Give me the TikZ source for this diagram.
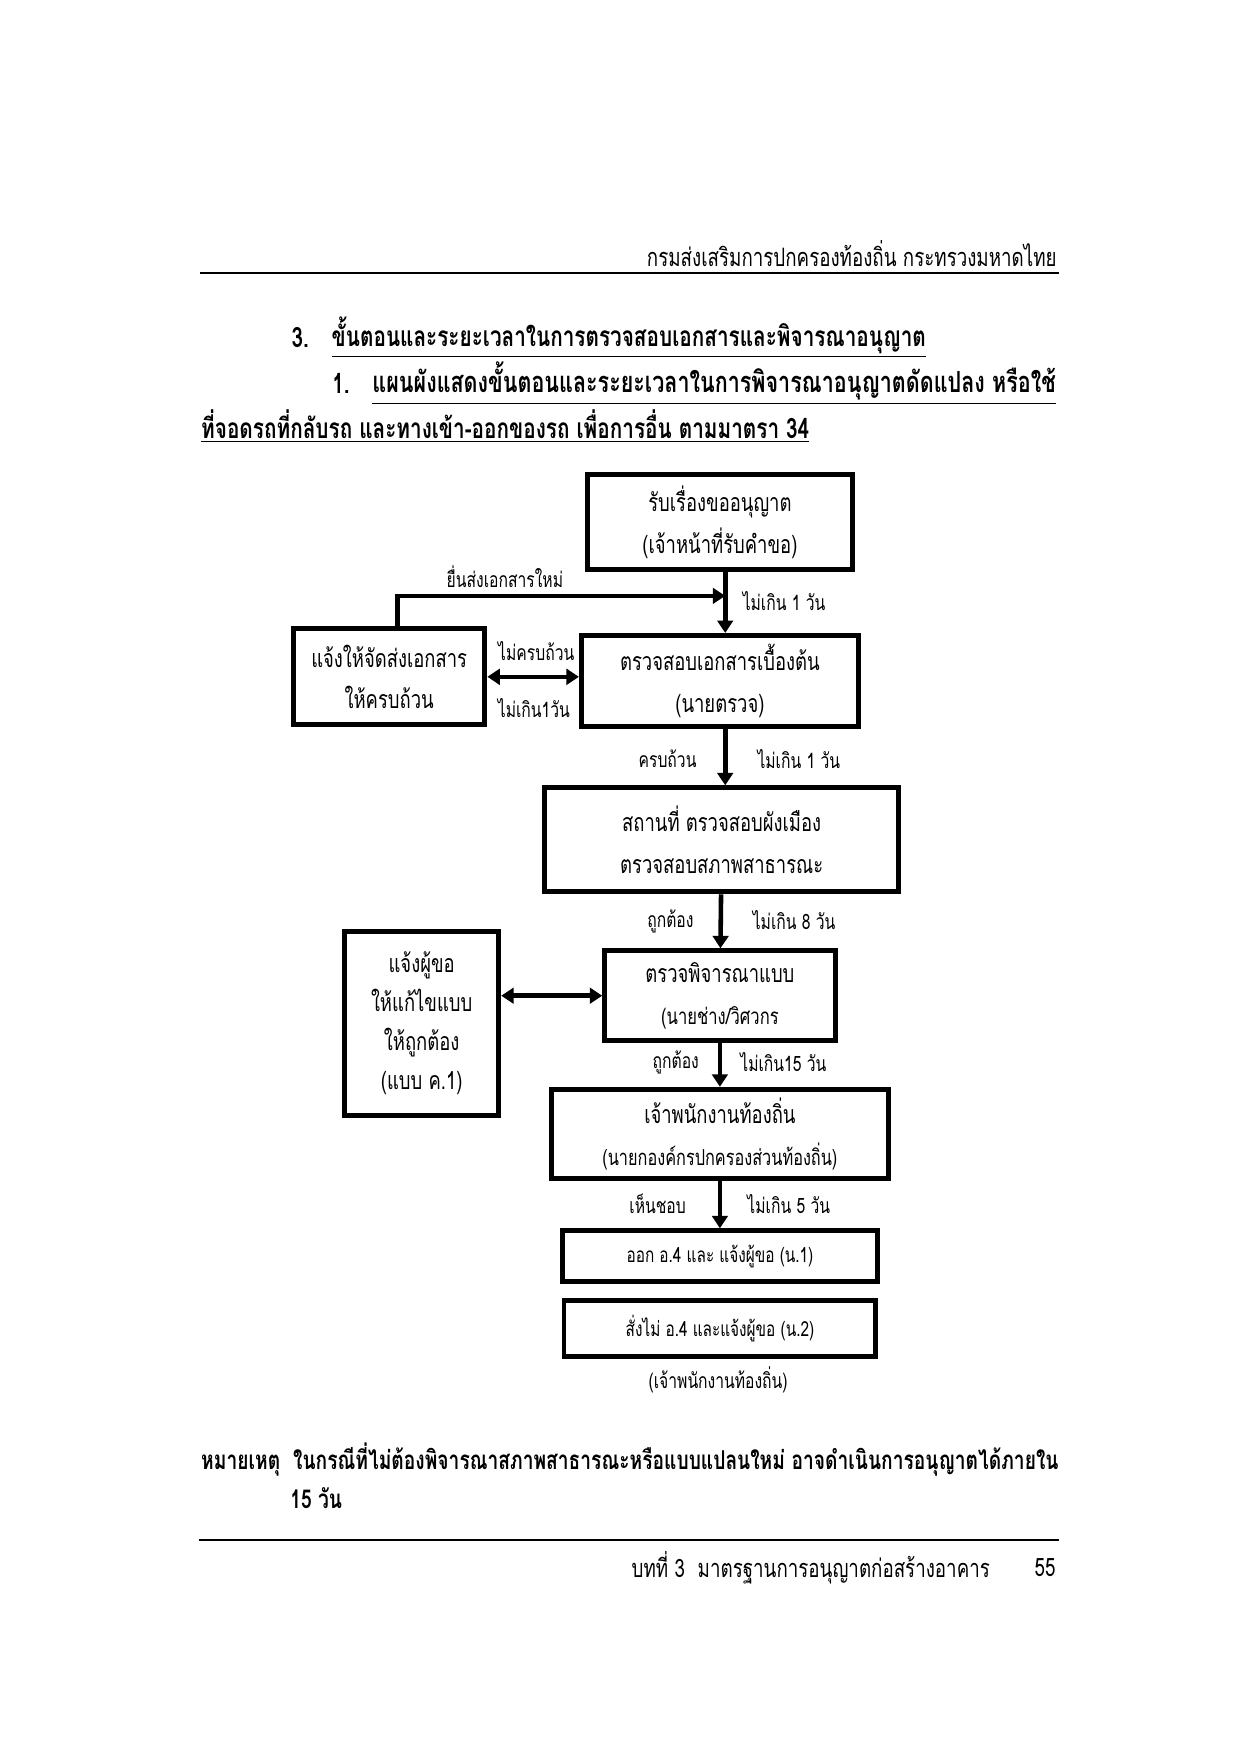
\documentclass[tikz,border=0pt]{standalone}
\usepackage{fontspec}
\newfontfamily\thaifont[Script=Thai, FakeStretch=0.74]{Loma}
\usetikzlibrary{arrows.meta, positioning, calc}

\begin{document}
\begin{tikzpicture}[>={Triangle[length=6pt, width=7.5pt]}]
            \tikzstyle{box} = [draw, rectangle, line width=2.4pt, align=center, inner sep=0pt, font=\thaifont\fontsize{12}{20}\selectfont]
            \tikzstyle{lbl} = [inner sep=0pt, font=\thaifont\fontsize{10.2}{12}\selectfont]
            \tikzstyle{page} = [inner sep=0pt, font=\thaifont\fontsize{12.2}{14}\selectfont]
            \tikzstyle{ttl} = [inner sep=0pt, font=\thaifont\bfseries\fontsize{13.5}{16}\selectfont]
            \tikzstyle{flow} = [line width=2.2pt]
            \useasboundingbox (0,0) rectangle (21,-29.7);

            % page header
            \node[page, anchor=east] (hdr) at (17.90,-4.30) {กรมส่งเสริมการปกครองท้องถิ่น กระทรวงมหาดไทย};
            \draw[line width=1.2pt] (3.39,-4.62) -- (17.93,-4.62);

            % headings
            \node[ttl, anchor=west] (num3) at (4.93,-5.71) {3.};
            \node[ttl, anchor=west] (sec3) at (5.61,-5.71) {\underline{ขั้นตอนและระยะเวลาในการตรวจสอบเอกสารและพิจารณาอนุญาต}};
            \node[ttl, anchor=west] (num1) at (5.62,-6.49) {1.};
            \node[ttl, anchor=west, font=\thaifont\bfseries\fontsize{14}{16}\selectfont] (sub1) at (6.30,-6.49) {\underline{แผนผังแสดงขั้นตอนและระยะเวลาในการพิจารณาอนุญาตดัดแปลง หรือใช้}};
            \node[ttl, anchor=west] (sub1b) at (3.40,-7.22) {\underline{ที่จอดรถที่กลับรถ และทางเข้า-ออกของรถ เพื่อการอื่น ตามมาตรา 34}};

            % boxes
            \node[box, minimum width=4.50cm, minimum height=1.61cm] (recv) at (12.19,-8.84) {รับเรื่องขออนุญาต\\(เจ้าหน้าที่รับคำขอ)};
            \node[box, minimum width=4.69cm, minimum height=1.54cm] (check) at (12.19,-11.53) {ตรวจสอบเอกสารเบื้องต้น\\(นายตรวจ)};
            \node[box, minimum width=3.24cm, minimum height=1.63cm] (resend) at (6.59,-11.46) {แจ้งให้จัดส่งเอกสาร\\ให้ครบถ้วน};
            \node[box, minimum width=6.00cm, minimum height=1.76cm] (site) at (12.22,-14.22) {สถานที่ ตรวจสอบผังเมือง\\ตรวจสอบสภาพสาธารณะ};
            \node[box, minimum width=3.90cm, minimum height=1.52cm] (plan) at (12.19,-16.86) {ตรวจพิจารณาแบบ\\{\fontsize{10.8}{20}\selectfont (นายช่าง/วิศวกร}};
            \node[box, minimum width=2.61cm, minimum height=3.12cm, font=\thaifont\fontsize{12}{18.8}\selectfont] (fix) at (7.14,-17.33) {แจ้งผู้ขอ\\ให้แก้ไขแบบ\\ให้ถูกต้อง\\(แบบ ค.1)};
            \node[box, minimum width=5.71cm, minimum height=1.51cm] (officer) at (12.19,-19.20) {เจ้าพนักงานท้องถิ่น\\{\fontsize{10.6}{20}\selectfont (นายกองค์กรปกครองส่วนท้องถิ่น)}};
            \node[box, minimum width=5.33cm, minimum height=0.86cm, font=\thaifont\fontsize{10}{12}\selectfont] (issue) at (12.19,-21.27) {ออก อ.4 และ แจ้งผู้ขอ (น.1)};
            \node[box, minimum width=5.28cm, minimum height=0.95cm, font=\thaifont\fontsize{10}{12}\selectfont] (deny) at (12.19,-22.50) {สั่งไม่ อ.4 และแจ้งผู้ขอ (น.2)};
            \node[lbl] (by) at (12.16,-23.37) {(เจ้าพนักงานท้องถิ่น)};

            % connectors
            \coordinate (back) at (12.28,-10.09);
            \draw[flow, ->] ([xshift=0.09cm]recv.south) -- ([xshift=0.09cm]check.north);
            \draw[flow, ->] ([xshift=0.14cm]resend.north) |- (back);
            \draw[flow, <->] (resend.east) -- (resend.east -| check.west);
            \draw[flow, ->] ([xshift=0.09cm]check.south) -- ([xshift=0.06cm]site.north);
            \draw[flow, ->] (site) -- (plan);
            \draw[flow, <->] (plan.west -| fix.east) -- (plan.west);
            \draw[flow, ->] (plan) -- (officer);
            \draw[flow, ->] (officer) -- (issue);

            % labels
            \node[lbl] (newdoc) at (8.55,-9.77) {ยื่นส่งเอกสารใหม่};
            \node[lbl, anchor=west] (t1) at (12.57,-10.18) {ไม่เกิน 1 วัน};
            \node[lbl] (incomplete) at (9.08,-11.03) {ไม่ครบถ้วน};
            \node[lbl] (t1b) at (9.04,-11.99) {ไม่เกิน1วัน};
            \node[lbl, anchor=east] (complete) at (11.80,-12.85) {ครบถ้วน};
            \node[lbl, anchor=west] (t2) at (12.82,-12.85) {ไม่เกิน 1 วัน};
            \node[lbl, anchor=east] (ok1) at (11.75,-15.61) {ถูกต้อง};
            \node[lbl, anchor=west] (t8) at (12.74,-15.58) {ไม่เกิน 8 วัน};
            \node[lbl, anchor=east] (ok2) at (11.84,-17.99) {ถูกต้อง};
            \node[lbl, anchor=west] (t15) at (12.53,-17.99) {ไม่เกิน15 วัน};
            \node[lbl, anchor=east] (agree) at (11.62,-20.39) {เห็นชอบ};
            \node[lbl, anchor=west] (t5) at (12.65,-20.39) {ไม่เกิน 5 วัน};

            % note
            \node[ttl, anchor=west, font=\thaifont\bfseries\fontsize{12.5}{16}\selectfont] (note) at (3.40,-24.71) {หมายเหตุ\enspace ในกรณีที่ไม่ต้องพิจารณาสภาพสาธารณะหรือแบบแปลนใหม่ อาจดำเนินการอนุญาตได้ภายใน};
            \node[ttl, anchor=west, font=\thaifont\bfseries\fontsize{12.5}{16}\selectfont] (note2) at (4.91,-25.37) {15 วัน};

            % page footer
            \draw[line width=1.2pt] (3.37,-26.08) -- (17.93,-26.08);
            \node[page, anchor=west] (ftr) at (10.69,-26.54) {บทที่ 3\enspace มาตรฐานการอนุญาตก่อสร้างอาคาร};
            \node[page, anchor=east] (pg) at (17.88,-26.54) {55};
        \end{tikzpicture}
\end{document}
